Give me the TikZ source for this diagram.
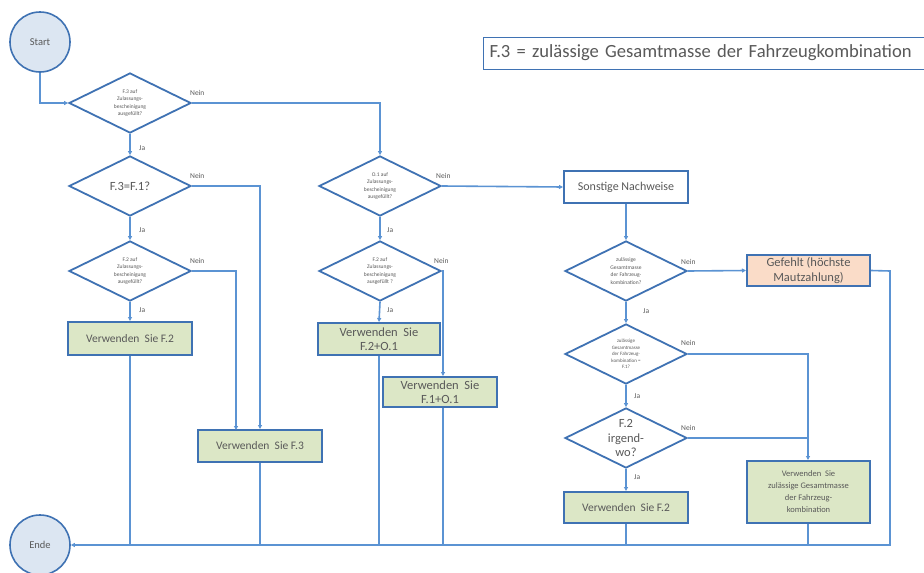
\documentclass[tikz,border=0pt]{standalone}
\usepackage{fontspec}
\setmainfont{Carlito}
\usetikzlibrary{shapes.geometric,arrows.meta}
\definecolor{lineblue}{HTML}{5B93D3}
\definecolor{edgeblue}{HTML}{3F72B3}
\definecolor{txtgray}{HTML}{595959}
\definecolor{greenfill}{HTML}{DCE7C6}
\definecolor{peachfill}{HTML}{FADCC8}
\definecolor{circfill}{HTML}{DCE6F2}
\tikzset{
  conn/.style={draw=lineblue, line width=1.6pt},
  arr/.style={conn, -{Triangle[length=4pt,width=4pt]}},
  dec/.style={shape=diamond, draw=edgeblue, line width=1.8pt, fill=white,
    minimum width=122pt, minimum height=60pt, inner sep=0pt, aspect=2,
    text=txtgray, align=center},
  tiny/.style={font=\fontsize{5.5}{7.5}\selectfont},
  boxgreen/.style={draw=edgeblue, line width=2pt, fill=greenfill, text=txtgray,
    align=center, inner sep=0pt, font=\fontsize{11.5}{14}\selectfont},
  term/.style={circle, draw=edgeblue, line width=1.6pt, fill=circfill,
    minimum size=60pt, inner sep=0pt, text=txtgray, font=\fontsize{10.5}{12}\selectfont},
  lab/.style={text=txtgray, font=\fontsize{7.5}{9}\selectfont, inner sep=0pt},
}
\begin{document}
\begin{tikzpicture}[x=1pt,y=-1pt]
\useasboundingbox (0,0) rectangle (924,573);
\begin{scope}
\clip (0,0) rectangle (924,573);
% legend
\node[draw=edgeblue, line width=1pt, fill=white, anchor=west, text=txtgray,
  minimum height=32pt, inner sep=0pt, text width=470pt,
  font=\fontsize{18.6}{22}\selectfont] (legend) at (483,53)
  {\hspace{6pt}F.3 = zulässige Gesamtmasse der Fahrzeugkombination};
% terminals
\node[term] (start) at (40,42) {Start};
\node[term] (ende) at (40,545) {Ende};
% diamonds
\node[dec, tiny] (d1) at (130,103) {F.3 auf\\Zulassungs-\\bescheinigung\\ausgefüllt?};
\node[dec, font=\fontsize{12.5}{14}\selectfont] (d2) at (130,186) {F.3=F.1?};
\node[dec, tiny] (d3) at (130,271) {F.2 auf\\Zulassungs-\\bescheinigung\\ausgefüllt?};
\node[dec, tiny] (d4) at (380,186) {O.1 auf\\Zulassungs-\\bescheinigung\\ausgefüllt?};
\node[dec, tiny] (d5) at (380,271) {F.2 auf\\Zulassungs-\\bescheinigung\\ausgefüllt ?};
\node[dec, tiny] (d6) at (626,271) {zulässige\\Gesamtmasse\\der Fahrzeug-\\kombination?};
\node[dec, font=\fontsize{5}{6.5}\selectfont] (d7) at (626,354) {zulässige\\Gesamtmasse\\der Fahrzeug-\\kombination =\\F.1?};
\node[dec, font=\fontsize{12.5}{14.5}\selectfont] (d8) at (626,438) {F.2\\irgend-\\wo?};
% boxes
\node[boxgreen, minimum width=124pt, minimum height=33pt] (b1) at (130,338.5) {Verwenden\ \ Sie F.2};
\node[boxgreen, minimum width=124pt, minimum height=32pt] (b2) at (260,446) {Verwenden\ \ Sie F.3};
\node[boxgreen, minimum width=122pt, minimum height=32pt, font=\fontsize{12.5}{14}\selectfont] (b3) at (379,339) {Verwenden\ \ Sie\\F.2+O.1};
\node[boxgreen, minimum width=114pt, minimum height=30pt, font=\fontsize{12.5}{14}\selectfont] (b4) at (440,392) {Verwenden\ \ Sie\\F.1+O.1};
\node[boxgreen, fill=white, minimum width=124pt, minimum height=32pt, font=\fontsize{12}{14}\selectfont] (b5) at (626,187) {Sonstige Nachweise};
\node[boxgreen, fill=peachfill, minimum width=123pt, minimum height=31pt, font=\fontsize{12.5}{15}\selectfont] (b6) at (808.5,270.5) {Gefehlt (höchste\\Mautzahlung)};
\node[boxgreen, minimum width=123pt, minimum height=62pt, font=\fontsize{8.5}{12}\selectfont] (b7) at (808.5,492) {Verwenden\ \ Sie\\zulässige Gesamtmasse\\der Fahrzeug-\\kombination};
\node[boxgreen, minimum width=124pt, minimum height=31pt] (b8) at (626,507.5) {Verwenden\ \ Sie F.2};
% helper coordinates
\coordinate (c0) at (40,103);
\coordinate (c1) at (380,103);
\coordinate (c2) at (260,186);
\coordinate (c3) at (236,271);
\coordinate (c3b) at (236,430);
\coordinate (c5) at (443,271);
\coordinate (c7) at (808,354);
\coordinate (c8) at (808,438);
\coordinate (rb1) at (890,271);
\coordinate (rb2) at (890,545);
% connectors
\draw[arr] (start.south) -- (c0) -- (d1.west);
\draw[arr] (d1.east) -- (c1) -- (d4.north);
\draw[arr] (d1.south) -- (d2.north);
\draw[arr] (d2.east) -- (c2) -- (b2.north -| c2);
\draw[arr] (d2.south) -- (d3.north);
\draw[arr] (d3.east) -- (c3) -- (c3b);
\draw[arr] (d3.south) -- (b1.north);
\draw[arr] (d4.east) -- (b5.west);
\draw[arr] (d4.south) -- (d5.north);
\draw[arr] (d5.east) -- (c5) -- (b4.north -| c5);
\draw[arr] (d5.south) -- (b3.north);
\draw[arr] (b5.south) -- (d6.north);
\draw[arr] (d6.east) -- (b6.west);
\draw[arr] (d6.south) -- (d7.north);
\draw[arr] (d7.east) -- (c7) -- (b7.north -| c7);
\draw[arr] (d7.south) -- (d8.north);
\draw[conn] (d8.east) -- (c8);
\draw[arr] (d8.south) -- (b8.north);
\draw[arr] (b6.east) -- (rb1) -- (rb2) -- (ende.east);
\draw[conn] (b1.south) -- (b1.south |- rb2);
\draw[conn] (b2.south) -- (b2.south |- rb2);
\draw[conn] (b3.south) -- (b3.south |- rb2);
\draw[conn] (b4.south -| c5) -- (c5 |- rb2);
\draw[conn] (b8.south) -- (b8.south |- rb2);
\draw[conn] (b7.south -| c7) -- (c7 |- rb2);
% labels
\node[lab, anchor=west] (n1) at (190,93) {Nein};
\node[lab, anchor=west] (j1) at (139,148) {Ja};
\node[lab, anchor=west] (n2) at (190,176) {Nein};
\node[lab, anchor=west] (j2) at (139,230) {Ja};
\node[lab, anchor=west] (n3) at (190,261) {Nein};
\node[lab, anchor=west] (j3) at (139,310) {Ja};
\node[lab, anchor=west] (n4) at (436,176) {Nein};
\node[lab, anchor=west] (j4) at (387,230) {Ja};
\node[lab, anchor=west] (n5) at (434,261) {Nein};
\node[lab, anchor=west] (j5) at (387,310) {Ja};
\node[lab, anchor=west] (n6) at (681,262) {Nein};
\node[lab, anchor=west] (j6) at (643,311) {Ja};
\node[lab, anchor=west] (n7) at (681,343) {Nein};
\node[lab, anchor=west] (j7) at (634,396) {Ja};
\node[lab, anchor=west] (n8) at (681,428) {Nein};
\node[lab, anchor=west] (j8) at (634,477) {Ja};
\end{scope}
\end{tikzpicture}
\end{document}
